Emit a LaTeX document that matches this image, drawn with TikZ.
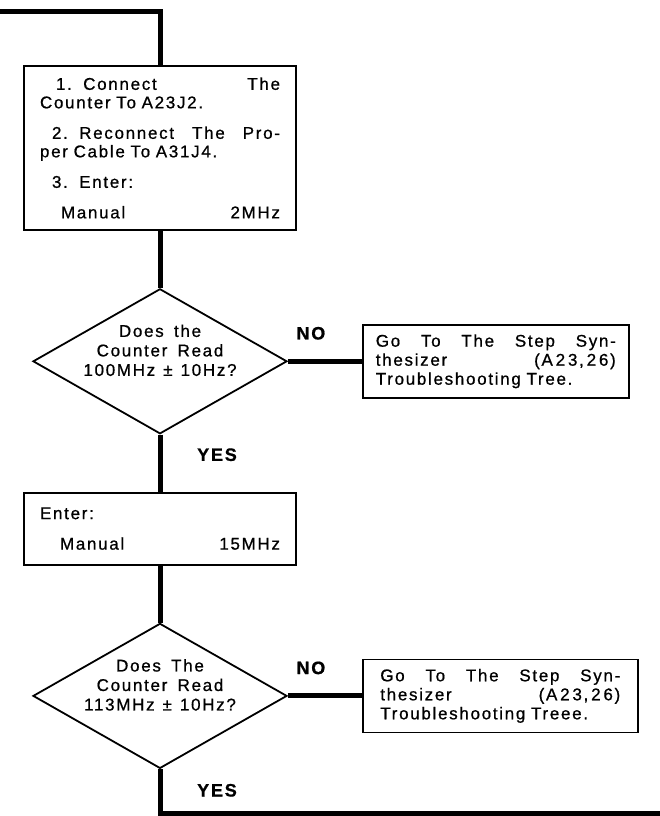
\documentclass[tikz,border=0pt]{standalone}
\usepackage{fontspec}
\newfontfamily\manualfont[LetterSpace=10, WordSpace=1.6, FakeBold=0.8]{Liberation Sans}
\usetikzlibrary{positioning,calc,shapes.geometric}

\begin{document}
\begin{tikzpicture}[x=1pt, y=-1pt, node distance=57pt and 74pt, every edge/.append style={line width=5pt}, stepbox/.style = {rectangle, draw, line width=1.8pt, text width=240pt, inner xsep=16pt, align=left, font=\manualfont\fontsize{17}{18.5}\selectfont}, ask/.style = {diamond, draw, line width=1.8pt, minimum width=254pt, minimum height=145pt, inner sep=0pt}, asktext/.style = {align=center, font=\manualfont\fontsize{17}{19.5}\selectfont}, gotobox/.style = {rectangle, draw, line width=1.8pt, text width=240pt, inner xsep=13pt, minimum height=73pt, align=left, font=\manualfont\fontsize{17}{19}\selectfont}, answer/.style = {font=\manualfont\bfseries\fontsize{18}{18}\selectfont}]

\useasboundingbox (0,0) rectangle (660,816);

\coordinate (entry) at (0,12);
\coordinate (exit) at (660,813);

\node[stepbox, minimum height=164pt] (setup) at (160,148) {\hspace*{16pt}1.\ \ Connect\hfill The\\
Counter To A23J2.\\[12pt]
\hspace*{12pt}2.\ \ Reconnect\hfill The\hfill Pro-\\
per Cable To A31J4.\\[12pt]
\hspace*{12pt}3.\ \ Enter:\\[12pt]
\hspace*{21pt}Manual\hfill 2MHz};

\node[ask] (chk1) [below=of setup] {};
\node[asktext] (q1) at ([yshift=11pt]chk1.center) {Does the\\Counter Read\\100MHz\hspace{8pt}±\hspace{8pt}10Hz?};
\node[gotobox] (syn1) [right=of chk1] {Go\hfill To\hfill The\hfill Step\hfill Syn-\\
thesizer\hfill (A\,2\,3,\,2\,6)\\
Troubleshooting Tree.};

\node[stepbox, minimum height=72pt] (enter) [below=of chk1] {Enter:\\[12pt]
\hspace*{20pt}Manual\hfill 15MHz};

\node[ask] (chk2) [below=of enter] {};
\node[asktext] (q2) at ([yshift=11pt]chk2.center) {Does The\\Counter Read\\113MHz\hspace{8pt}±\hspace{8pt}10Hz?};
\node[gotobox, inner xsep=17.5pt] (syn2) [right=of chk2] {Go\hfill To\hfill The\hfill Step\hfill Syn-\\
thesizer\hfill (A\,2\,3,\,2\,6)\\
Troubleshooting Treee.};

\node[answer] (no1) at ($(chk1.east)+(23,-28)$) {NO};
\node[answer] (yes1) at ($(chk1.south)+(57,20)$) {YES};
\node[answer] (no2) at ($(chk2.east)+(23,-28)$) {NO};
\node[answer] (yes2) at ($(chk2.south)+(57,21)$) {YES};

\draw[line width=5pt] (entry) -| (setup.north);
\path
    (setup) edge (chk1)
    (chk1) edge (syn1)
    (chk1) edge (enter)
    (enter) edge (chk2)
    (chk2) edge (syn2);
\draw[line width=5pt] (chk2) |- (exit);
\end{tikzpicture}
\end{document}
